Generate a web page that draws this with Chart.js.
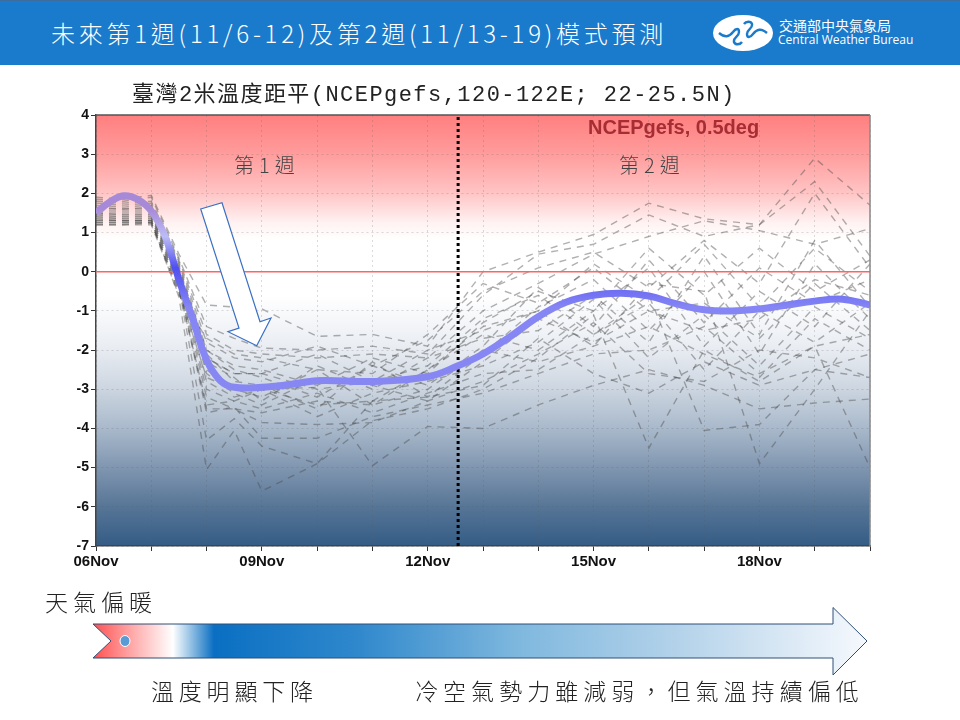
<!DOCTYPE html>
<html lang="zh-Hant">
<head>
<meta charset="utf-8">
<title>臺灣2米溫度距平</title>
<script src="https://cdn.jsdelivr.net/npm/chart.js@4"></script>
<style>
  html, body { margin: 0; padding: 0; background: #fff; width: 960px; height: 720px; overflow: hidden; }
  #chart { position: absolute; left: 0; top: 0; }
  .txt { position: absolute; white-space: nowrap; font-family: "Noto Sans CJK TC", sans-serif; font-weight: 300; }
  #band { position: absolute; left: 0; top: 0; width: 960px; height: 65px; background: #1a7acb; border-top: 1px solid #3d6d9c; box-sizing: border-box; }
  svg.over { position: absolute; left: 0; top: 0; }
</style>
</head>
<body>
<canvas id="chart" width="960" height="720"></canvas>

<div id="band"></div>
<div class="txt" style="left:51px;top:15px;font-size:24px;line-height:36px;color:#fff;letter-spacing:3.75px">未來第1週(11/6-12)及第2週(11/13-19)模式預測</div>
<svg class="over" width="960" height="720">
  <defs>
    <linearGradient id="bar" x1="93" x2="868" y1="0" y2="0" gradientUnits="userSpaceOnUse">
      <stop offset="0" stop-color="#ff5050"/>
      <stop offset="0.05" stop-color="#ffa8a8"/>
      <stop offset="0.103" stop-color="#ffffff"/>
      <stop offset="0.156" stop-color="#0a6fc2"/>
      <stop offset="0.34" stop-color="#2f88cc"/>
      <stop offset="0.55" stop-color="#7fb8de"/>
      <stop offset="0.76" stop-color="#b5d3ea"/>
      <stop offset="1" stop-color="#f6f9fd"/>
    </linearGradient>
  </defs>
  <!-- logo -->
  <ellipse cx="743" cy="33" rx="30" ry="18" fill="#fff"/>
  <path d="M719 33c6 5 10 4 14-1c3-4 6-4 6 0c0 5-6 5-5 10c1 3 6 3 8 0M767 33c-6-5-10-4-14 1c-3 4-6 4-6 0c0-5 6-5 5-10c-1-3-6-3-8 0" fill="none" stroke="#1a7acb" stroke-width="2.4"/>
  <!-- arrow in the plot -->
  <polygon points="200.7,209 222,202.7 260,321.7 271,318 256.7,345.7 228,331.7 239,328" fill="#fff" stroke="#3a6fc4" stroke-width="1.2"/>
  <!-- bottom trend arrow -->
  <polygon points="93,624 833,624 833,607.5 867,641 833,675 833,658 93,658 111,641" fill="url(#bar)" stroke="#2f4f78" stroke-width="1"/>
  <ellipse cx="125" cy="641" rx="5" ry="5.5" fill="#5b9bd5" stroke="#fff" stroke-width="1"/>
</svg>
<div class="txt" style="left:779px;top:16px;font-size:14px;line-height:18px;color:#fff;font-weight:400">交通部中央氣象局</div>
<div class="txt" style="left:778px;top:32px;font-size:12px;line-height:16px;color:#fff;font-family:'Open Sans',sans-serif;font-weight:400">Central Weather Bureau</div>

<div class="txt" style="left:132px;top:81px;font-size:22px;line-height:30px;color:#222;letter-spacing:1.45px;font-family:'Liberation Mono','Noto Sans CJK TC',monospace;font-weight:400">臺灣2米溫度距平(NCEPgefs,120-122E; 22-25.5N)</div>
<div class="txt" style="left:234px;top:150px;font-size:20px;line-height:30px;color:#444;letter-spacing:5px">第1週</div>
<div class="txt" style="left:619px;top:150px;font-size:20px;line-height:30px;color:#444;letter-spacing:5px">第2週</div>
<div class="txt" style="left:588px;top:115px;font-size:20px;line-height:24px;color:#a0252d;font-family:'Liberation Sans',sans-serif;font-weight:700;opacity:.92">NCEPgefs, 0.5deg</div>

<div class="txt" style="left:45px;top:584px;font-size:23px;line-height:34px;color:#222;letter-spacing:5px">天氣偏暖</div>
<div class="txt" style="left:151px;top:673px;font-size:23px;line-height:34px;color:#222;letter-spacing:4.8px">溫度明顯下降</div>
<div class="txt" style="left:415px;top:673px;font-size:23px;line-height:34px;color:#222;letter-spacing:5.05px">冷空氣勢力雖減弱&#xFF0C;但氣溫持續偏低</div>

<script>
// days since 06Nov
const meanDays   = [0, 0.25, 0.5, 0.75, 1, 1.25, 1.5, 1.75, 2, 2.25, 2.5, 3, 3.5, 4, 5, 6, 6.55, 7, 7.5, 8, 8.5, 9, 9.5, 10, 10.5, 11, 11.5, 12, 12.5, 13, 13.5, 14];
const meanValues = [1.5, 1.78, 1.94, 1.85, 1.55, 0.9, -0.2, -1.2, -2.25, -2.78, -2.95, -2.95, -2.88, -2.78, -2.8, -2.68, -2.4, -2.1, -1.65, -1.15, -0.78, -0.6, -0.55, -0.62, -0.82, -0.97, -1.0, -0.95, -0.85, -0.75, -0.7, -0.85];

const memberDays = [0, 0.5, 1, 1.5, 2, 2.5, 3, 4, 5, 6, 7, 8, 9, 10, 11, 12, 13, 14];
const m01 = [1.9, 1.85, 1.95, 0.45, -0.85, -0.9, -0.95, -1.65, -1.6, -1.9, 0.0, 0.5, 0.95, 1.75, 1.35, 1.2, 2.9, 1.7];
const m02 = [1.85, 1.8, 1.9, 0.35, -1.4, -1.7, -1.95, -2.0, -1.9, -2.1, -0.6, 0.45, 0.7, 1.45, 0.9, 1.2, 2.3, 0.4];
const m03 = [1.8, 1.75, 1.8, 0.3, -1.6, -2.0, -2.1, -2.2, -2.1, -2.2, -1.0, -0.3, 0.45, 0.9, 1.3, 1.05, 0.7, 1.1];
const m04 = [1.75, 1.7, 1.75, 0.25, -1.8, -2.2, -2.3, -1.9, -2.4, -1.75, -0.5, 0.1, 0.5, -0.4, 0.8, -0.3, 2.0, 0.1];
const m05 = [1.7, 1.65, 1.7, 0.2, -2.0, -2.4, -2.5, -2.9, -2.2, -2.6, -1.3, -0.5, -1.0, 0.6, -0.6, 0.6, -0.5, 0.3];
const m06 = [1.65, 1.6, 1.65, 0.15, -2.2, -2.6, -2.6, -2.1, -2.8, -2.0, -1.5, -1.0, 0.2, -0.7, 0.7, -0.9, 0.6, -0.5];
const m07 = [1.6, 1.6, 1.6, 0.1, -2.0, -2.5, -2.7, -3.2, -2.4, -2.9, -1.9, -0.4, -1.4, 0.3, -1.3, 0.1, -0.8, -0.2];
const m08 = [1.55, 1.55, 1.55, 0.05, -2.3, -2.7, -3.3, -2.4, -3.0, -2.2, -1.7, -1.5, -0.6, -1.8, 0.4, -1.6, 0.8, -0.9];
const m09 = [1.5, 1.5, 1.5, 0.0, -2.1, -2.8, -2.9, -3.5, -2.3, -3.2, -2.1, -0.9, -0.2, -1.5, 0.0, -2.1, 0.2, -1.2];
const m10 = [1.5, 1.45, 1.45, -0.05, -2.5, -3.0, -3.2, -2.5, -3.4, -2.5, -1.6, -2.0, -1.0, 0.1, -1.9, -0.5, -1.4, 0.2];
const m11 = [1.45, 1.45, 1.45, -0.1, -2.6, -3.1, -3.4, -2.7, -2.9, -3.3, -2.3, -1.2, -1.8, -1.0, -0.8, -1.7, -0.3, -1.5];
const m12 = [1.45, 1.4, 1.4, -0.15, -2.8, -3.2, -3.0, -3.7, -3.1, -2.8, -2.4, -1.8, -0.7, -2.2, -1.1, -2.4, -0.9, -1.7];
const m13 = [1.4, 1.4, 1.4, -0.2, -3.0, -3.3, -3.5, -3.1, -3.6, -3.1, -2.6, -2.5, -1.6, -0.8, -2.5, -1.0, -1.8, -0.8];
const m14 = [1.4, 1.35, 1.35, -0.25, -3.2, -3.5, -3.6, -3.3, -3.4, -3.0, -2.0, -2.3, -1.9, -1.4, -2.1, -2.7, -1.2, -2.0];
const m15 = [1.35, 1.35, 1.35, -0.3, -3.5, -3.5, -3.85, -3.9, -3.85, -3.3, -2.8, -2.1, -1.3, -2.6, -2.8, -2.0, -2.2, -2.7];
const m16 = [1.35, 1.3, 1.3, -0.35, -3.6, -3.45, -4.25, -4.25, -3.7, -3.4, -3.1, -2.6, -2.1, -2.0, -1.4, -2.6, -1.9, -1.6];
const m17 = [1.3, 1.3, 1.3, -0.4, -4.3, -3.75, -4.45, -4.9, -3.3, -3.2, -2.9, -1.7, -2.6, -3.1, -2.3, -2.9, -2.5, -2.7];
const m18 = [1.3, 1.3, 1.3, -0.65, -5.05, -4.05, -5.6, -4.9, -3.8, -3.5, -3.0, -2.2, -1.1, -4.5, -2.0, -2.8, -1.9, -5.0];
const m19 = [1.25, 1.25, 1.25, -0.45, -3.4, -3.3, -3.0, -2.95, -4.95, -3.95, -4.0, -3.4, -2.9, -2.5, -2.9, -3.5, -3.35, -3.25];
const m20 = [1.25, 1.25, 1.25, -0.5, -2.7, -3.0, -3.0, -3.4, -3.3, -2.5, -1.4, -1.0, -1.9, -0.3, -0.5, -4.9, -3.0, -1.0];
const m21 = [1.2, 1.2, 1.25, -0.55, -2.2, -2.6, -2.6, -3.0, -2.8, -2.4, -1.2, -0.6, -1.6, -0.6, -4.05, -3.9, -2.5, -2.1];
const m22 = [1.2, 1.2, 1.2, -0.6, -1.7, -2.1, -2.2, -2.5, -2.6, -1.6, -0.3, -0.8, 0.1, -1.0, -1.5, -1.2, -0.2, -0.6];
const members = [m01, m02, m03, m04, m05, m06, m07, m08, m09, m10, m11, m12, m13, m14, m15, m16, m17, m18, m19, m20, m21, m22];

const dayLabels = ['06Nov', '09Nov', '12Nov', '15Nov', '18Nov'];
const weekBreak = 6.55;
const xMax = 14;
const yMin = -7;
const yMax = 4;

const xy = (days, vals) => days.map((d, i) => ({ x: d, y: vals[i] }));

// shaded plot background and the frame round it
const plotBackground = {
  id: 'plotBackground',
  beforeDatasetsDraw(chart) {
    const { ctx, chartArea: a } = chart;
    const g = ctx.createLinearGradient(0, a.top, 0, a.bottom);
    g.addColorStop(0, '#ff7f7f');
    g.addColorStop(0.09, '#ff9c9c');
    g.addColorStop(0.18, '#ffc4c4');
    g.addColorStop(0.25, '#fff2f2');
    g.addColorStop(0.29, '#ffffff');
    g.addColorStop(0.42, '#ffffff');
    g.addColorStop(0.545, '#e8ecf2');
    g.addColorStop(0.636, '#ccd5e0');
    g.addColorStop(0.727, '#a9b9cb');
    g.addColorStop(0.818, '#8096b0');
    g.addColorStop(0.91, '#567596');
    g.addColorStop(1, '#345c85');
    ctx.save();
    ctx.globalCompositeOperation = 'destination-over';
    ctx.fillStyle = g;
    ctx.fillRect(a.left, a.top, a.right - a.left, a.bottom - a.top);
    ctx.restore();
  },
  afterDraw(chart) {
    const { ctx, chartArea: a } = chart;
    ctx.save();
    ctx.strokeStyle = '#555';
    ctx.lineWidth = 1.5;
    ctx.beginPath();
    ctx.moveTo(a.left, a.top);
    ctx.lineTo(a.right, a.top);
    ctx.stroke();
    ctx.strokeStyle = '#888';
    ctx.beginPath();
    ctx.moveTo(a.right, a.top);
    ctx.lineTo(a.right, a.bottom);
    ctx.stroke();
    ctx.restore();
  }
};

// the mean line changes shade with height: purple in the warm band, strong blue round zero
function meanStroke(context) {
  const { ctx, chartArea: a, scales } = context.chart;
  if (!a) return '#8c8cf0';
  const g = ctx.createLinearGradient(0, a.top, 0, a.bottom);
  const stop = (v, c) => g.addColorStop((scales.y.getPixelForValue(v) - a.top) / (a.bottom - a.top), c);
  stop(4, '#a68ad8');
  stop(1.6, '#a68ad8');
  stop(0.9, '#bcbcf6');
  stop(0.1, '#4f4ff0');
  stop(-0.9, '#8585f5');
  stop(-7, '#8c8cf0');
  return g;
}

const memberSets = members.map(vals => ({
  data: xy(memberDays, vals),
  borderColor: 'rgba(75,75,75,0.44)',
  borderWidth: 1.4,
  borderDash: [7, 6],
  pointRadius: 0,
  tension: 0,
  order: 5,
}));

new Chart(document.getElementById('chart'), {
  type: 'line',
  data: {
    datasets: [
      ...memberSets,
      { data: xy([0, xMax], [0, 0]), borderColor: '#ff6464', borderWidth: 1.4, pointRadius: 0, order: 4 },
      { data: xy([weekBreak, weekBreak], [yMin, yMax]), borderColor: '#000', borderWidth: 3, borderDash: [3, 3], pointRadius: 0, order: 3 },
      { data: xy(meanDays, meanValues), borderColor: meanStroke, borderWidth: 7, pointRadius: 0, tension: 0.4, order: 1 },
    ]
  },
  options: {
    responsive: false,
    animation: false,
    devicePixelRatio: 1,
    layout: { padding: { left: 66, right: 90, top: 115, bottom: 144 } },
    plugins: { legend: { display: false }, tooltip: { enabled: false }, title: { display: false } },
    scales: {
      x: {
        type: 'linear',
        min: 0,
        max: xMax,
        afterFit(s) { s.height = 30; },
        grid: { color: 'rgba(90,90,90,0.22)', tickColor: '#333', tickLength: 5 },
        border: { color: '#444', width: 1.5, dash: [2, 3] },
        ticks: {
          stepSize: 1,
          autoSkip: false,
          maxRotation: 0,
          padding: 2,
          color: '#111',
          font: { size: 15, weight: 'bold', family: 'Liberation Sans' },
          callback: v => (v % 3 === 0 ? dayLabels[v / 3] : ''),
        }
      },
      y: {
        min: yMin,
        max: yMax,
        afterFit(s) { s.width = 30; },
        grid: { color: 'rgba(90,90,90,0.22)', tickColor: '#333', tickLength: 5 },
        border: { color: '#444', width: 1.5, dash: [2, 3] },
        ticks: {
          stepSize: 1,
          padding: 2,
          color: '#111',
          font: { size: 14, weight: 'bold', family: 'Liberation Sans' },
        }
      }
    }
  },
  plugins: [plotBackground],
});
</script>
</body>
</html>
